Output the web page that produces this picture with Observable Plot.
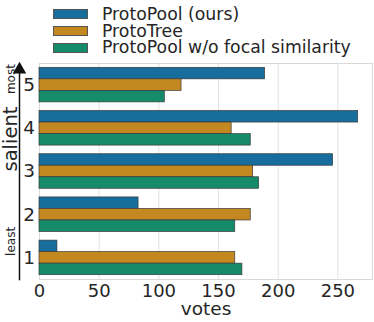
<!DOCTYPE html>
<html>
<head>
<meta charset="utf-8">
<script src="https://cdn.jsdelivr.net/npm/d3@7"></script>
<script src="https://cdn.jsdelivr.net/npm/@observablehq/plot@0.6"></script>
<style>
  html, body { margin: 0; padding: 0; background: #fff; }
  body { width: 374px; height: 322px; overflow: hidden; font-family: "DejaVu Sans", sans-serif; color: #262626; }
  #legend { height: 60px; box-sizing: border-box; padding: 6px 0 0 53px; }
  .row { display: flex; align-items: center; height: 16.7px; }
  .sw { width: 35px; height: 10px; box-sizing: border-box; border: 0.8px solid #555; margin-right: 14px; }
  .lab { font-size: 17.3px; line-height: 16.7px; white-space: nowrap; }
  svg { display: block; }
</style>
</head>
<body>
<div id="legend"></div>
<div id="chart"></div>
<script>
// ---- data ----
const levels = [5, 4, 3, 2, 1];
const series = ["ProtoPool (ours)", "ProtoTree", "ProtoPool w/o focal similarity"];
const colors = ["#176d9c", "#c38820", "#158b6a"];
const protoPool = [189, 267, 246, 83, 15];
const protoTree = [119, 161, 179, 177, 164];
const noFocal   = [105, 177, 184, 164, 170];
const xTicks = [0, 50, 100, 150, 200, 250];

const seriesValues = [protoPool, protoTree, noFocal];
const groupWidth = 0.8;
const data = [];
levels.forEach((lv, li) => {
  series.forEach((s, si) => {
    const top = lv + groupWidth / 2 - si * groupWidth / series.length;
    data.push({ level: lv, series: s, votes: seriesValues[si][li], y1: top, y2: top - groupWidth / series.length });
  });
});

// ---- legend ----
const legend = document.getElementById("legend");
series.forEach((s, i) => {
  const row = document.createElement("div");
  row.className = "row";
  const sw = document.createElement("div");
  sw.className = "sw";
  sw.style.background = colors[i];
  const lab = document.createElement("span");
  lab.className = "lab";
  lab.textContent = s;
  row.appendChild(sw); row.appendChild(lab);
  legend.appendChild(row);
});

// ---- chart ----
const chart = Plot.plot({
  width: 374,
  height: 262,
  marginLeft: 39,
  marginRight: 2,
  marginTop: 3,
  marginBottom: 43,
  style: { fontFamily: "DejaVu Sans", fontSize: "15px", color: "#262626", background: "#fff", overflow: "visible" },
  x: { type: "linear", domain: [0, 279] },
  y: { type: "linear", domain: [0.5, 5.5] },
  color: { domain: series, range: colors },
  marks: [
    Plot.gridX(xTicks, { stroke: "#e3e3e3", strokeOpacity: 1, strokeWidth: 1 }),
    Plot.frame({ stroke: "#d9d9d9" }),
    Plot.rect(data, { x1: 0, x2: "votes", y1: "y1", y2: "y2", fill: "series", stroke: "#3a3a3a", strokeWidth: 0.7 }),
    Plot.axisX({ ticks: xTicks, tickSize: 0, tickPadding: 5, label: null, fontSize: 18 }),
    Plot.axisY({ ticks: levels, tickSize: 0, tickPadding: 4.5, label: null, fontSize: 18.5, tickFormat: d => String(d) }),
    Plot.text(["votes"], { frameAnchor: "bottom", dy: 22, lineAnchor: "top", fontSize: 18.5, fill: "#262626" }),
    Plot.text(["salient"], { frameAnchor: "left", dx: -29, rotate: -90, fontSize: 19.5, fill: "#262626" }),
    Plot.text(["most"], { y: [levels[0]], frameAnchor: "left", dx: -28, dy: 9, rotate: -90, fontSize: 12, fill: "#262626" }),
    Plot.text(["least"], { y: [levels[levels.length - 1]], frameAnchor: "left", dx: -28, dy: -2, rotate: -90, fontSize: 12, fill: "#262626" }),
    Plot.ruleX([0], { y1: 0.5 - 0.03, y2: 5.5 - 0.2, dx: -20, stroke: "#111", strokeWidth: 1.5 }),
    Plot.dot([0], { x: 0, y: 5.5, symbol: "triangle", r: 5, dx: -20, dy: 6, fill: "#111", stroke: "none" })
  ]
});
document.getElementById("chart").appendChild(chart);
</script>
</body>
</html>
